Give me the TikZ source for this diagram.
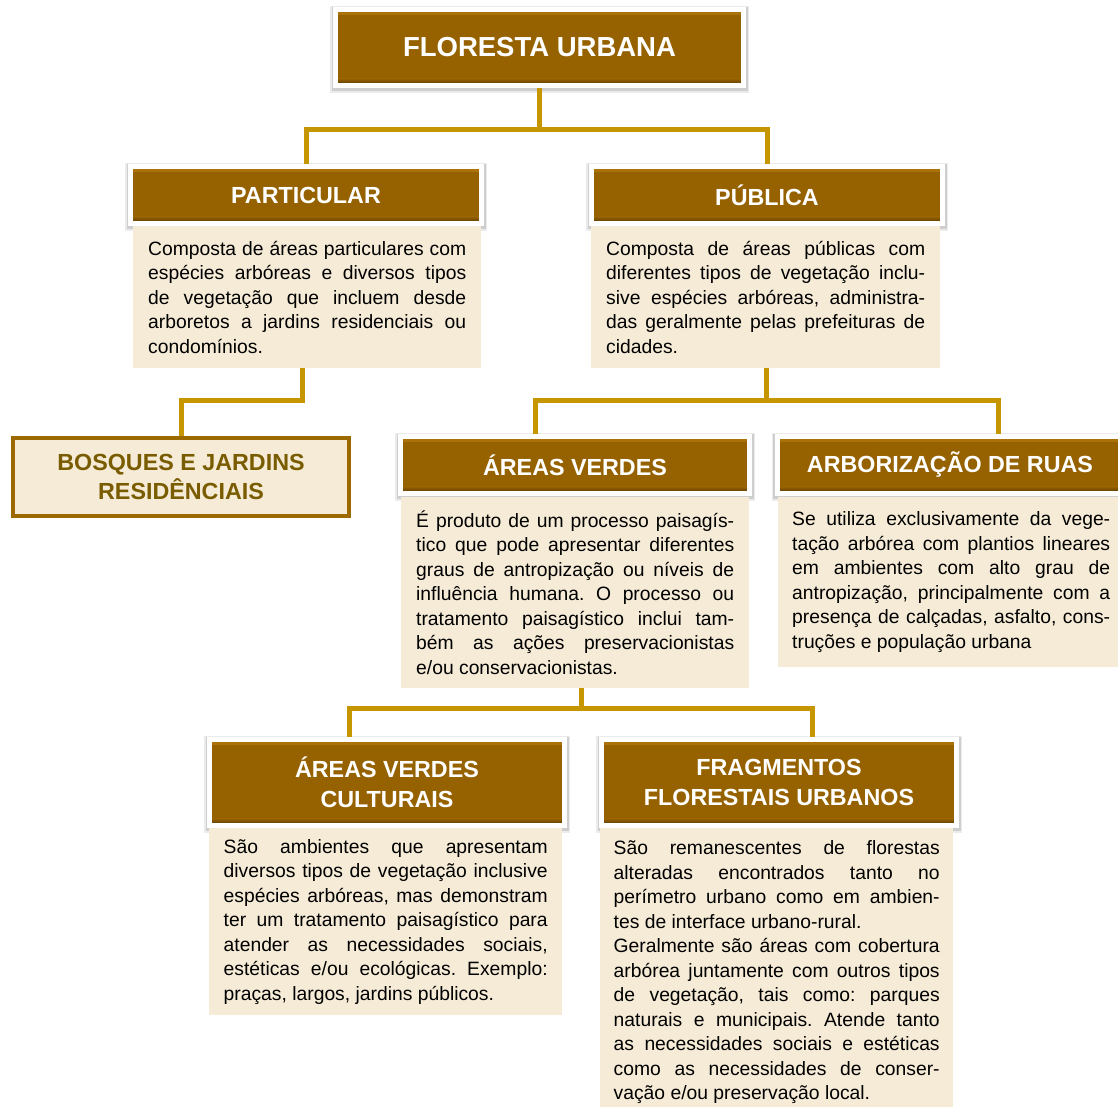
\documentclass[tikz,border=0pt]{standalone}
\usepackage{xcolor, fontspec}
\usetikzlibrary{shadows}
\setmainfont{Liberation Sans}

\definecolor{hbrown}{RGB}{150,98,0}
\definecolor{hlight}{RGB}{172,114,10}
\definecolor{hdark}{RGB}{105,68,0}
\definecolor{beige}{RGB}{245,235,214}
\definecolor{gold}{RGB}{198,150,0}
\definecolor{bosqline}{RGB}{156,104,0}
\definecolor{bosqtext}{RGB}{122,92,0}

\begin{document}
\frenchspacing
\begin{tikzpicture}[x=1pt, y=-1pt,
    head/.style={rectangle, fill=hbrown, draw=white, line width=5pt, text=white,
        inner sep=0pt, align=center, font=\bfseries\fontsize{23.3}{30}\selectfont,
        drop shadow={shadow xshift=0pt, shadow yshift=-1.5pt, opacity=0.08, fill=black, draw=black, line width=11pt},
        drop shadow={shadow xshift=0pt, shadow yshift=-1pt, opacity=0.12, fill=black, draw=black, line width=8pt},
        path picture={
            \fill[hlight] ([yshift=-2.5pt]path picture bounding box.north west) rectangle ([yshift=-5pt]path picture bounding box.north east);
            \shade[top color=hbrown, bottom color=hdark] ([yshift=7pt]path picture bounding box.south west) rectangle ([yshift=2.5pt]path picture bounding box.south east);
        }},
    body/.style={rectangle, fill=beige, anchor=north west, inner xsep=14pt, inner ysep=0pt,
        align=justify, font=\fontsize{19.3}{24.5}\selectfont},
    link/.style={draw=gold, line width=5pt}]
    \fill[white] (0,0) rectangle (1118,1106);
    \useasboundingbox (0,0) rectangle (1118,1106);
    \hyphenpenalty=10000 \exhyphenpenalty=10000 \tolerance=10000
    \node [head, minimum width=408, minimum height=76, font=\bfseries\fontsize{27.5}{32}\selectfont] (top) at (539.5,47.5) {FLORESTA URBANA};
    \node [head, minimum width=351, minimum height=57] (partH) at (306,195) {PARTICULAR};
    \node [head, minimum width=351, minimum height=57] (pubH) at (767,195) {PÚBLICA};
    \node [body, text width=318, minimum height=142, inner xsep=15pt] (partB) at (133,226) {Composta de áreas particulares com\linebreak espécies arbóreas e diversos tipos\linebreak de vegetação que incluem desde\linebreak arboretos a jardins residenciais ou\linebreak condomínios.};
    \node [body, text width=319, minimum height=142, inner xsep=15pt] (pubB) at (591,226) {Composta de áreas públicas com\linebreak diferentes tipos de vegetação inclu-\linebreak sive espécies arbóreas, administra-\linebreak das geralmente pelas prefeituras de\linebreak cidades.};
    \node [rectangle, fill=beige, draw=bosqline, line width=4pt, minimum width=336, minimum height=78, align=center,
        text=bosqtext, font=\bfseries\fontsize{23.3}{29}\selectfont] (bosq) at (181,477) {BOSQUES E JARDINS\\RESIDÊNCIAIS};
    \node [head, minimum width=349, minimum height=57] (avH) at (575,465) {ÁREAS VERDES};
    \node [head, minimum width=346, minimum height=57] (arbH) at (950,465) {ARBORIZAÇÃO DE RUAS};
    \node [body, text width=318, minimum height=191, inner xsep=15pt] (avB) at (401,497) {É produto de um processo paisagís-\linebreak tico que pode apresentar diferentes\linebreak graus de antropização ou níveis de\linebreak influência humana. O processo ou\linebreak tratamento paisagístico inclui tam-\linebreak bém as ações preservacionistas\linebreak e/ou conservacionistas.};
    \node [body, text width=318, minimum height=170] (arbB) at (778,497) {Se utiliza exclusivamente da vege-\linebreak tação arbórea com plantios lineares\linebreak em ambientes com alto grau de\linebreak antropização, principalmente com a\linebreak presença de calçadas, asfalto, cons-\linebreak truções e população urbana};
    \node [head, minimum width=355, minimum height=86] (avcH) at (387,782.5) {ÁREAS VERDES\\CULTURAIS};
    \node [head, minimum width=355, minimum height=86] (fragH) at (779,782.5) {FRAGMENTOS\\FLORESTAIS URBANOS};
    \node [body, text width=324, minimum height=187, inner xsep=14.5pt] (avcB) at (209,828) {São ambientes que apresentam\linebreak diversos tipos de vegetação inclusive\linebreak espécies arbóreas, mas demonstram\linebreak ter um tratamento paisagístico para\linebreak atender as necessidades sociais,\linebreak estéticas e/ou ecológicas. Exemplo:\linebreak praças, largos, jardins públicos.};
    \node [body, text width=326, minimum height=288, inner xsep=13.5pt] (fragB) at (600,828) {São remanescentes de florestas\linebreak alteradas encontrados tanto no\linebreak perímetro urbano como em ambien-\linebreak tes de interface urbano-rural.\par Geralmente são áreas com cobertura\linebreak arbórea juntamente com outros tipos\linebreak de vegetação, tais como: parques\linebreak naturais e municipais. Atende tanto\linebreak as necessidades sociais e estéticas\linebreak como as necessidades de conser-\linebreak vação e/ou preservação local.};
    \foreach \n in {partH, pubH}
    \draw [link] (\n.north) -- ++(0,-35) -| (top.south);
    \draw [link] ([xshift=-5pt]partB.south) -- ++(0,32) -| (bosq.north);
    \draw [link] ([xshift=1pt]pubB.south) -- ++(0,32) -| ([xshift=-40pt]avH.north);
    \draw [link] ([xshift=1pt]pubB.south) -- ++(0,32) -| ([xshift=48pt]arbH.north);
    \draw [link] ([xshift=6pt]avB.south) -- ++(0,20) -| ([xshift=-38pt]avcH.north);
    \draw [link] ([xshift=6pt]avB.south) -- ++(0,20) -| ([xshift=33pt]fragH.north);
\end{tikzpicture}
\end{document}
